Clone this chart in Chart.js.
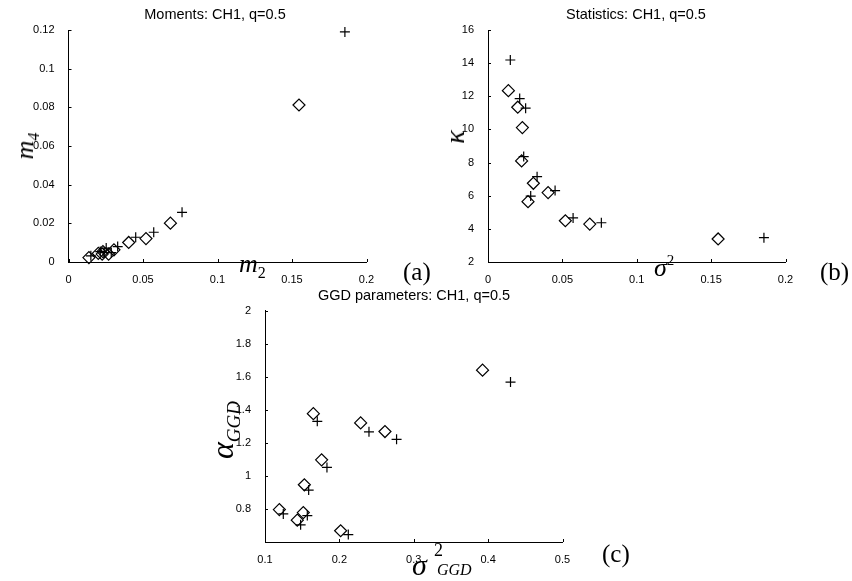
<!DOCTYPE html>
<html>
<head>
<meta charset="utf-8">
<script src="https://cdn.jsdelivr.net/npm/chart.js@4.4.1/dist/chart.umd.min.js"></script>
<style>
  body { margin: 0; background: #fff; }
  #wrap { position: relative; width: 852px; height: 581px; background: #fff; overflow: hidden; }
  canvas { position: absolute; }
  .lbl { position: absolute; color: #000; white-space: nowrap; line-height: 1; }
  .ttl { font-family: "Liberation Sans", Arial, sans-serif; font-size: 14.5px; transform: translate(-50%, -50%); }
  .ser { font-family: "Liberation Serif", "Times New Roman", serif; }
  .it { font-style: italic; }
</style>
</head>
<body>
<div id="wrap">
  <canvas id="chartA" width="426" height="290" style="left:0;top:0"></canvas>
  <canvas id="chartB" width="426" height="290" style="left:426px;top:0"></canvas>
  <canvas id="chartC" width="852" height="291" style="left:0;top:290px"></canvas>

  <!-- titles -->
  <div class="lbl ttl" style="left:215px;top:14px">Moments: CH1, q=0.5</div>
  <div class="lbl ttl" style="left:636px;top:14px">Statistics: CH1, q=0.5</div>
  <div class="lbl ttl" style="left:414px;top:295px">GGD parameters: CH1, q=0.5</div>

  <!-- axis labels (a) -->
  <div class="lbl ser" style="left:239px;top:251px;font-size:26px"><span class="it">m</span><span style="font-size:16px;position:relative;top:6px">2</span></div>
  <div class="lbl ser" style="left:25px;top:146px;font-size:26px;transform:translate(-50%,-50%) rotate(-90deg)"><span class="it">m</span><span class="it" style="font-size:16px;position:relative;top:6px">4</span></div>
  <div class="lbl ser" style="left:403px;top:259px;font-size:25px">(a)</div>

  <!-- axis labels (b) -->
  <div class="lbl ser it" style="left:455px;top:137px;font-size:28px;transform:translate(-50%,-50%) rotate(-90deg)">κ</div>
  <div class="lbl ser" style="left:654px;top:255px;font-size:26px"><span class="it">σ</span><span style="font-size:15px;position:relative;top:-11px">2</span></div>
  <div class="lbl ser" style="left:820px;top:259px;font-size:25px">(b)</div>

  <!-- axis labels (c) -->
  <div class="lbl ser" style="left:222px;top:430px;font-size:32px;transform:translate(-50%,-50%) rotate(-90deg)"><span class="it">α</span><span class="it" style="font-size:19px;position:relative;top:7px">GGD</span></div>
  <div class="lbl ser it" style="left:412px;top:550px;font-size:30px">σ</div>
  <div class="lbl ser" style="left:434px;top:541px;font-size:18px">2</div>
  <div class="lbl ser it" style="left:437px;top:562px;font-size:16px">GGD</div>
  <div class="lbl ser" style="left:602px;top:541px;font-size:25px">(c)</div>
</div>

<script>
// -----------------------------------------------
// data : "+" and diamond series
// -----------------------------------------------
// (a) moments m2 / m4  (same m2 is sigma^2 in (b))
const m2Plus = [0.0150, 0.0213, 0.0253, 0.0240, 0.0330, 0.0287, 0.0451, 0.0572, 0.0762, 0.1855];
const m4Plus = [0.0032, 0.0054, 0.0072, 0.0048, 0.0080, 0.0049, 0.0128, 0.0154, 0.0257, 0.1190];
const m2Diam = [0.0137, 0.0200, 0.0231, 0.0226, 0.0305, 0.0269, 0.0404, 0.0520, 0.0684, 0.1547];
const m4Diam = [0.0023, 0.0045, 0.0054, 0.0041, 0.0063, 0.0041, 0.0101, 0.0121, 0.0201, 0.0812];

// (b) kurtosis
const kapPlus = [14.19, 11.86, 11.28, 8.36, 7.15, 5.98, 6.31, 4.66, 4.37, 3.47];
const kapDiam = [12.34, 11.34, 10.11, 8.10, 6.75, 5.64, 6.19, 4.49, 4.29, 3.39];

// (c) GGD parameters
const sgPlus = [0.4301, 0.1703, 0.2398, 0.2769, 0.1833, 0.1587, 0.1246, 0.1569, 0.1479, 0.2120];
const alPlus = [1.567, 1.330, 1.266, 1.221, 1.051, 0.914, 0.770, 0.760, 0.704, 0.645];
const sgDiam = [0.3925, 0.1650, 0.2286, 0.2613, 0.1761, 0.1529, 0.1193, 0.1515, 0.1434, 0.2017];
const alDiam = [1.639, 1.376, 1.320, 1.268, 1.097, 0.946, 0.796, 0.778, 0.732, 0.668];

// tick values
const aXTicks = [0, 0.05, 0.1, 0.15, 0.2];
const aYTicks = [0, 0.02, 0.04, 0.06, 0.08, 0.1, 0.12];
const bXTicks = [0, 0.05, 0.1, 0.15, 0.2];
const bYTicks = [2, 4, 6, 8, 10, 12, 14, 16];
const cXTicks = [0.1, 0.2, 0.3, 0.4, 0.5];
const cYTicks = [0.8, 1, 1.2, 1.4, 1.6, 1.8, 2];

// -----------------------------------------------
// inward tick marks (matlab style)
// -----------------------------------------------
const inTicks = {
  id: "inTicks",
  afterDraw(chart) {
    const { ctx, chartArea: a, scales: { x, y } } = chart;
    ctx.save();
    ctx.strokeStyle = "#000";
    ctx.lineWidth = 1;
    ctx.beginPath();
    x.ticks.forEach(t => {
      const px = Math.round(x.getPixelForValue(t.value)) + 0.5;
      ctx.moveTo(px, a.bottom);
      ctx.lineTo(px, a.bottom - 3);
    });
    y.ticks.forEach(t => {
      const py = Math.round(y.getPixelForValue(t.value)) + 0.5;
      ctx.moveTo(a.left, py);
      ctx.lineTo(a.left + 3, py);
    });
    ctx.stroke();
    ctx.restore();
  }
};

const zip = (xs, ys) => xs.map((v, i) => ({ x: v, y: ys[i] }));
const tickFont = { family: "'Liberation Sans', Arial, sans-serif", size: 11 };

// box = chart area inside the canvas
function drawScatter(id, box, plus, diam, xr, yr) {
  const cv = document.getElementById(id);
  const W = cv.width, H = cv.height;
  return new Chart(cv, {
    type: "scatter",
    data: {
      datasets: [
        {
          data: plus,
          pointStyle: "cross",
          pointRadius: 5,
          borderColor: "#000",
          borderWidth: 1.2,
          clip: false
        },
        {
          data: diam,
          pointStyle: "rectRot",
          pointRadius: 6,
          borderColor: "#000",
          backgroundColor: "rgba(0,0,0,0)",
          borderWidth: 1.2,
          clip: false
        }
      ]
    },
    options: {
      responsive: false,
      animation: false,
      events: [],
      layout: { padding: { left: 0, top: box.top, right: W - box.right, bottom: 0 } },
      plugins: { legend: { display: false }, tooltip: { enabled: false } },
      scales: {
        x: {
          type: "linear",
          min: xr.min, max: xr.max,
          afterBuildTicks: s => { s.ticks = xr.ticks.map(v => ({ value: v })); },
          afterFit: s => { s.height = H - box.bottom; },
          grid: { display: false },
          border: { display: true, color: "#000", width: 1 },
          ticks: { color: "#000", font: tickFont, padding: 3, maxRotation: 0, autoSkip: false, callback: v => String(v) }
        },
        y: {
          type: "linear",
          min: yr.min, max: yr.max,
          afterBuildTicks: s => { s.ticks = yr.ticks.map(v => ({ value: v })); },
          afterFit: s => { s.width = box.left; },
          grid: { display: false },
          border: { display: true, color: "#000", width: 1 },
          ticks: { color: "#000", font: tickFont, padding: 6, autoSkip: false, callback: v => String(v) }
        }
      }
    },
    plugins: [inTicks]
  });
}

drawScatter("chartA", { left: 68.5, right: 366.5, top: 30, bottom: 262 },
  zip(m2Plus, m4Plus), zip(m2Diam, m4Diam),
  { min: 0, max: 0.2, ticks: aXTicks }, { min: 0, max: 0.12, ticks: aYTicks });

drawScatter("chartB", { left: 62, right: 359.5, top: 30, bottom: 262 },
  zip(m2Plus, kapPlus), zip(m2Diam, kapDiam),
  { min: 0, max: 0.2, ticks: bXTicks }, { min: 2, max: 16, ticks: bYTicks });

drawScatter("chartC", { left: 265, right: 562.5, top: 20.5, bottom: 252 },
  zip(sgPlus, alPlus), zip(sgDiam, alDiam),
  { min: 0.1, max: 0.5, ticks: cXTicks }, { min: 0.6, max: 2, ticks: cYTicks });
</script>
</body>
</html>
